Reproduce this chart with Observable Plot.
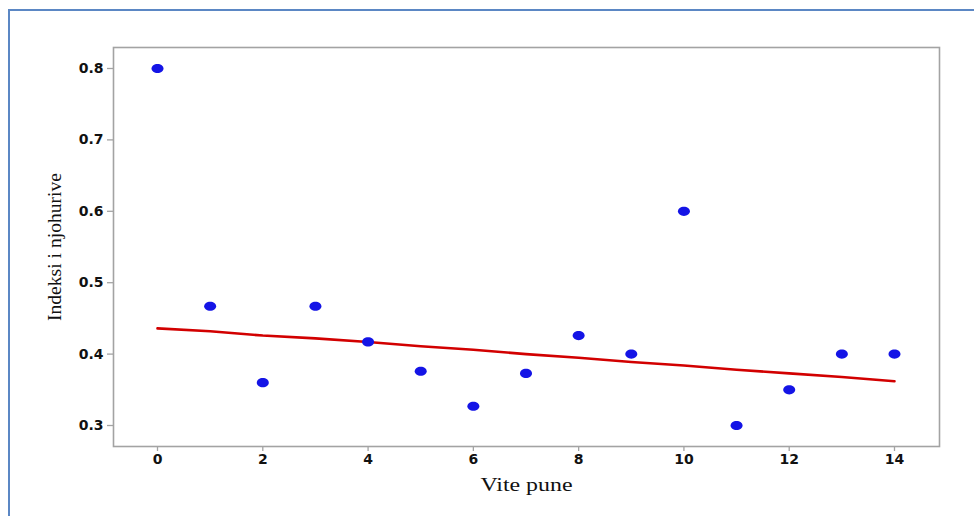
<!DOCTYPE html>
<html>
<head>
<meta charset="utf-8">
<script src="https://cdn.jsdelivr.net/npm/d3@7"></script>
<script src="https://cdn.jsdelivr.net/npm/@observablehq/plot@0.6"></script>
<style>
  html, body { margin: 0; padding: 0; background: #fff; overflow: hidden; }
  #wrap { position: relative; width: 974px; height: 516px; }
  #border { position: absolute; left: 8px; top: 9px; width: 1000px; height: 600px;
            border-left: 2px solid #5b87c4; border-top: 2px solid #5b87c4; box-sizing: border-box; }
  #chart { position: absolute; left: 0; top: 0; }
</style>
</head>
<body>
<div id="wrap"><div id="border"></div><div id="chart"></div></div>
<script>
const years = [0, 1, 2, 3, 4, 5, 6, 7, 8, 9, 10, 11, 12, 13, 14];
const knowledgeIndex = [0.800, 0.467, 0.360, 0.467, 0.417, 0.376, 0.327, 0.373, 0.426, 0.400, 0.600, 0.300, 0.350, 0.400, 0.400];
const fitYears = [0, 1, 2, 3, 4, 5, 6, 7, 8, 9, 10, 11, 12, 13, 14];
const fitValues = [0.436, 0.432, 0.426, 0.422, 0.417, 0.411, 0.406, 0.400, 0.395, 0.389, 0.384, 0.378, 0.373, 0.368, 0.362];
const xTicks = [0, 2, 4, 6, 8, 10, 12, 14];
const yTicks = [0.3, 0.4, 0.5, 0.6, 0.7, 0.8];
const xLabel = "Vite pune";
const yLabel = "Indeksi i njohurive";

const points = years.map((x, i) => ({x, y: knowledgeIndex[i]}));
const fit = fitYears.map((x, i) => ({x, y: fitValues[i]}));

// ellipse-shaped marker
const ellipse = {
  draw(ctx, size) {
    const rx = 6, ry = 4.6, k = 0.5523;
    ctx.moveTo(rx, 0);
    ctx.bezierCurveTo(rx, ry * k, rx * k, ry, 0, ry);
    ctx.bezierCurveTo(-rx * k, ry, -rx, ry * k, -rx, 0);
    ctx.bezierCurveTo(-rx, -ry * k, -rx * k, -ry, 0, -ry);
    ctx.bezierCurveTo(rx * k, -ry, rx, -ry * k, rx, 0);
    ctx.closePath();
  }
};

const tickFont = {fontFamily: "'DejaVu Sans', sans-serif", fontWeight: "bold", fontSize: 14};

const chart = Plot.plot({
  width: 974,
  height: 516,
  marginLeft: 113,
  marginRight: 35,
  marginTop: 47,
  marginBottom: 70,
  style: {background: "transparent", color: "#111"},
  x: {domain: [-0.836, 14.855], ticks: xTicks},
  y: {domain: [0.2706, 0.8294], ticks: yTicks},
  marks: [
    Plot.frame({stroke: "#a3a3a3", strokeWidth: 1.6}),
    Plot.axisX({ticks: xTicks, tickSize: 5, tickPadding: 3, stroke: "#a3a3a3", strokeWidth: 1.3,
                tickFormat: d => String(d), label: null, ...tickFont, fill: "#111"}),
    Plot.axisY({ticks: yTicks, tickSize: 6, tickPadding: 4, stroke: "#a3a3a3", strokeWidth: 1.3,
                tickFormat: d => d.toFixed(1), label: null, ...tickFont, fill: "#111"}),
    Plot.line(fit, {x: "x", y: "y", stroke: "#d20000", strokeWidth: 2.6, curve: "linear"}),
    Plot.dot(points, {x: "x", y: "y", symbol: ellipse, r: 5, fill: "#1414e6", stroke: "none"}),
    Plot.text([xLabel], {frameAnchor: "bottom", dy: 44, textAnchor: "middle", text: d => d,
      fontFamily: "'Liberation Serif', serif", fontSize: 19, fill: "#111"}),
    Plot.text([yLabel], {frameAnchor: "left", dx: -58, textAnchor: "middle", rotate: -90, text: d => d,
      fontFamily: "'Liberation Serif', serif", fontSize: 18, fill: "#111"})
  ]
});
// stretch axis titles to the reference's lengths
chart.querySelectorAll("text").forEach(t => {
  if (t.textContent === xLabel) { t.setAttribute("textLength", 92); t.setAttribute("lengthAdjust", "spacingAndGlyphs"); }
  if (t.textContent === yLabel) { t.setAttribute("textLength", 148); t.setAttribute("lengthAdjust", "spacingAndGlyphs"); }
});
document.getElementById("chart").appendChild(chart);
</script>
</body>
</html>
